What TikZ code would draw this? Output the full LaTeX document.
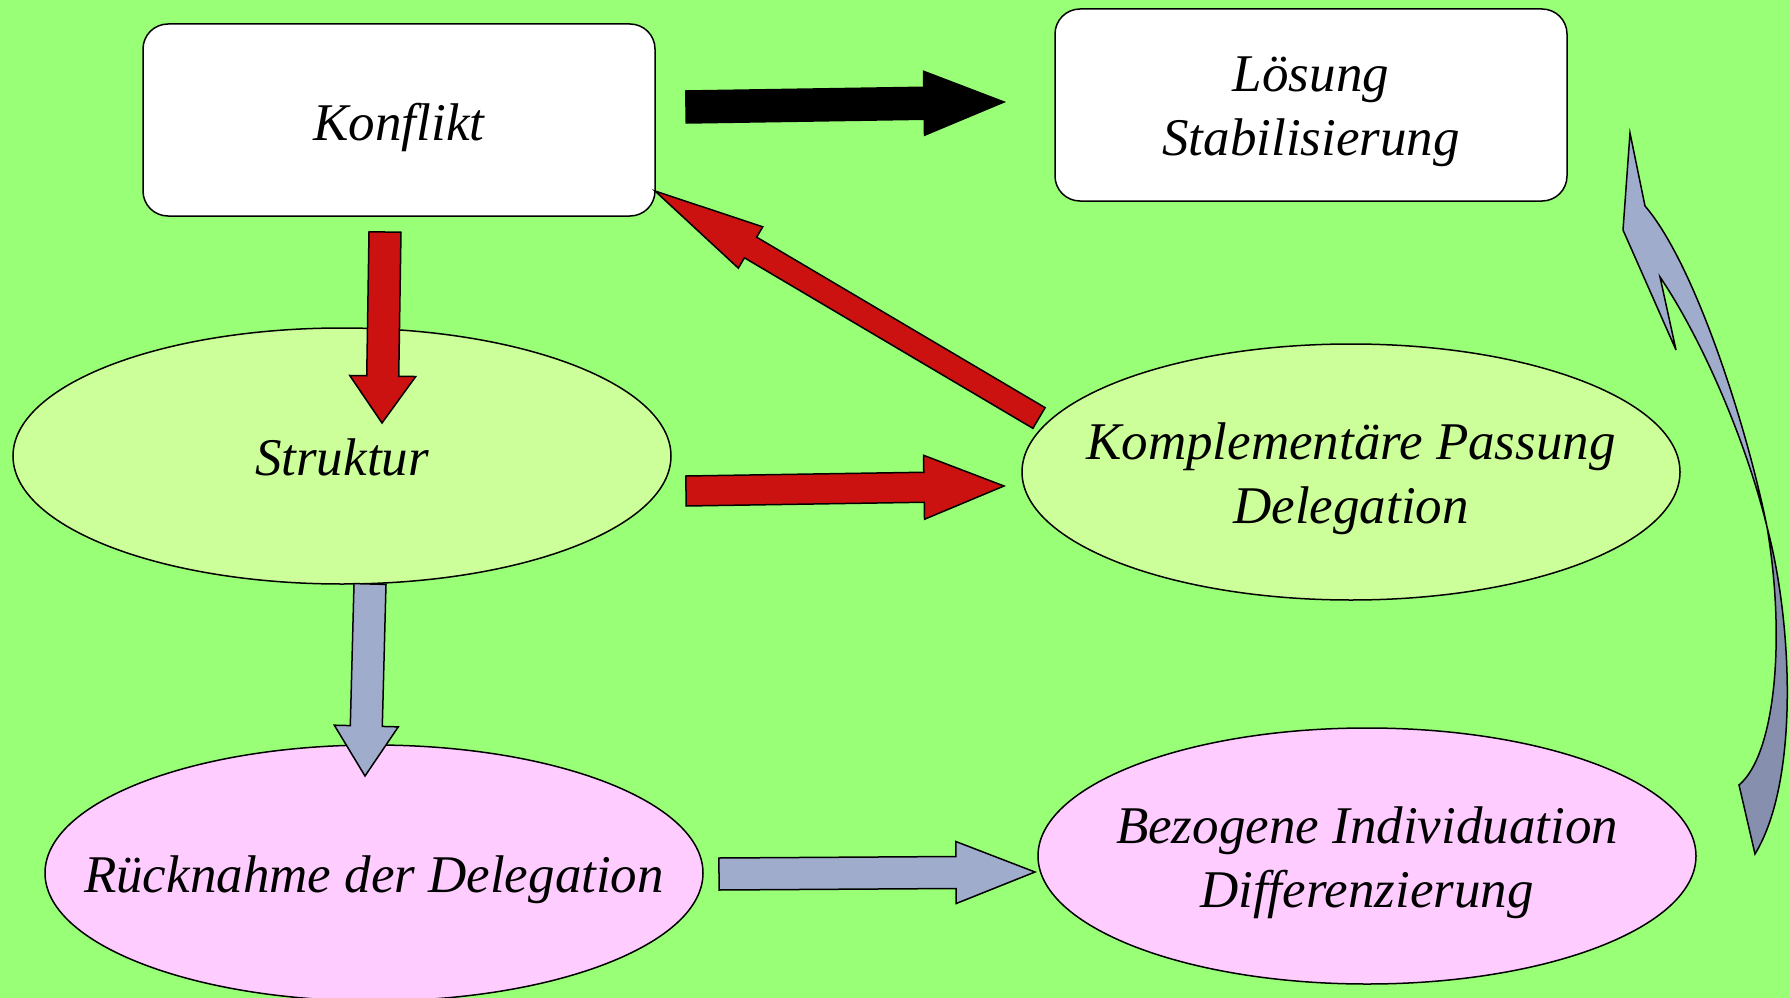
\documentclass[tikz,border=0pt]{standalone}
\usepackage{fontspec}
\setmainfont{Liberation Serif}
\usetikzlibrary{calc,shapes.geometric}
\definecolor{bgc}{HTML}{99FF77}
\definecolor{yell}{HTML}{CCFF99}
\definecolor{pinkc}{HTML}{FFCCFF}
\definecolor{redc}{HTML}{CC1111}
\definecolor{bluec}{HTML}{A0ACCC}
\definecolor{bluedark}{HTML}{8690AE}
\tikzset{
  lbl/.style={font=\fontsize{53}{64}\selectfont\itshape, align=center, text=black, inner sep=0pt, yshift=-7pt},
  boxnode/.style={draw=black, line width=1.5pt, fill=white, rounded corners=25pt, minimum width=512pt, minimum height=192pt, inner sep=0pt},
  ellnode/.style={ellipse, draw=black, line width=1.5pt, minimum width=658pt, minimum height=256pt, inner sep=0pt},
  ellyellow/.style={ellnode, fill=yell},
  ellpink/.style={ellnode, fill=pinkc},
  redarrow/.style={draw=black, line width=1.5pt, fill=redc, line join=miter},
  blackarrow/.style={draw=black, line width=1.5pt, fill=black, line join=miter},
  bluearrow/.style={draw=black, line width=1.5pt, fill=bluec, line join=miter},
  curvlight/.style={draw=black, line width=1.5pt, fill=bluec, line join=miter},
  curvdark/.style={draw=black, line width=1.5pt, fill=bluedark, line join=miter},
}
% #1 style, #2 start, #3 tip, #4 shaft half width, #5 head half width, #6 head length
\newcommand\blockarrow[6]{%
  \coordinate (ba-h) at ($(#3)!#6!(#2)$);
  \draw[#1] ($(#2)!#4!90:(#3)$) -- ($(ba-h)!#4!-90:(#2)$) -- ($(ba-h)!#5!-90:(#2)$) -- (#3)
    -- ($(ba-h)!#5!90:(#2)$) -- ($(ba-h)!#4!90:(#2)$) -- ($(#2)!#4!-90:(#3)$) -- cycle;}
\begin{document}
\begin{tikzpicture}[x=1pt,y=-1pt]
\fill[bgc] (0,0) rectangle (1789,998);
\useasboundingbox (0,0) rectangle (1789,998);

\node[boxnode] (konflikt) at (399,120) {};
\node[lbl] (konflikt-t) at (konflikt.center) {Konflikt};
\node[boxnode] (loesung) at (1311,105) {};
\node[lbl] (loesung-t) at (loesung.center) {Lösung\\Stabilisierung};
\node[ellyellow] (struktur) at (342,456) {};
\node[lbl, yshift=6pt] (struktur-t) at (struktur.center) {Struktur};
\node[ellyellow] (komp) at (1351,472) {};
\node[lbl] (komp-t) at (komp.center) {Komplementäre Passung\\Delegation};
\node[ellpink] (rueck) at (374,873) {};
\node[lbl] (rueck-t) at (rueck.center) {Rücknahme der Delegation};
\node[ellpink] (bez) at (1367,856) {};
\node[lbl] (bez-t) at (bez.center) {Bezogene Individuation\\Differenzierung};

% connector end points
\coordinate (k-s) at (686,107);   \coordinate (l-t) at (1004,102);
\coordinate (k-d) at (385,232);   \coordinate (s-t) at (382,423);
\coordinate (s-r) at (686,491);   \coordinate (kp-t) at (1004,486);
\coordinate (kp-s) at (1039,418); \coordinate (k-t) at (655,191);
\coordinate (s-d) at (370,584);   \coordinate (r-t) at (365,776);
\coordinate (r-r) at (719,874);   \coordinate (b-t) at (1035,872);

\blockarrow{blackarrow}{k-s}{l-t}{16pt}{32pt}{80pt}
\blockarrow{redarrow}{k-d}{s-t}{16pt}{33pt}{47pt}
\blockarrow{redarrow}{s-r}{kp-t}{15pt}{32pt}{80pt}
\blockarrow{redarrow}{kp-s}{k-t}{12pt}{24pt}{111pt}
\blockarrow{bluearrow}{s-d}{r-t}{16pt}{32pt}{50pt}
\blockarrow{bluearrow}{r-r}{b-t}{16pt}{31pt}{79pt}

% curved arrow from Bezogene up to Loesung
\coordinate (cx) at (1767,527);
\coordinate (ctip) at (1630,133);
\coordinate (ctail) at (1755,854);
\draw[curvdark] (cx) .. controls (1792,620) and (1800,780) .. (ctail) -- (1739,785)
  .. controls (1775,755) and (1786,640) .. (cx) -- cycle;
\draw[curvlight] (ctip) -- (1623,230) -- (1676,350) -- (1660,277)
  .. controls (1700,336) and (1745,437) .. (cx)
  .. controls (1747,427) and (1695,264) .. (1645,206) -- cycle;
\end{tikzpicture}
\end{document}
